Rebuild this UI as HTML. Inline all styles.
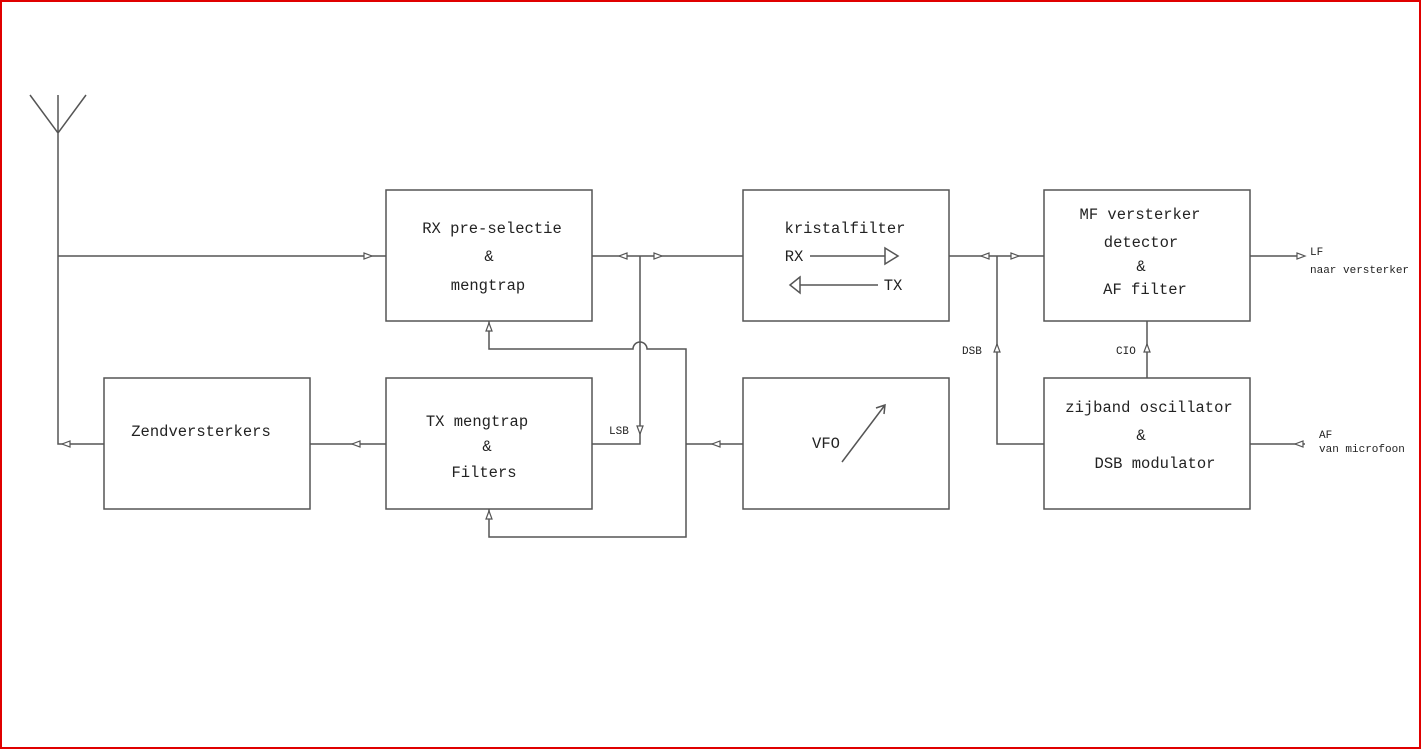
<!DOCTYPE html>
<html><head><meta charset="utf-8"><style>
html,body{margin:0;padding:0;background:#fff}
svg{display:block}
text{font-family:"Liberation Mono","DejaVu Sans Mono",monospace;fill:#222}
</style></head><body>
<svg width="1421" height="749" viewBox="0 0 1421 749" xmlns="http://www.w3.org/2000/svg">
<rect x="1" y="1" width="1419" height="747" fill="none" stroke="#e00000" stroke-width="2"/>
<g fill="none" stroke="#555" stroke-width="1.5">
<rect x="386" y="190" width="206" height="131"/>
<rect x="743" y="190" width="206" height="131"/>
<rect x="1044" y="190" width="206" height="131"/>
<rect x="104" y="378" width="206" height="131"/>
<rect x="386" y="378" width="206" height="131"/>
<rect x="743" y="378" width="206" height="131"/>
<rect x="1044" y="378" width="206" height="131"/>
<path d="M30 95 L58 133 L86 95 M58 95 V444 H104"/>
<path d="M58 256 H386"/>
<path d="M310 444 H386"/>
<path d="M592 256 H743 M640 256 V444 H592"/>
<path d="M489 321 V349 H633 A7 7 0 0 1 647 349 H686 V537 H489 V509"/>
<path d="M686 444 H743"/>
<path d="M949 256 H1044 M997 256 V444 H1044"/>
<path d="M1147 321 V378"/>
<path d="M1250 256 H1300 M1250 444 H1305"/>
<path d="M810 256 H885 M885 248 L898 256 L885 264 Z"/>
<path d="M800 285 H878 M800 277 L790 285 L800 293 Z"/>
<path d="M842 462 L885 405 M876 408 L885 405 L884 414"/>
</g>
<g fill="#fff" stroke="#555" stroke-width="1.2">
<path d="M372 256 L364 253 L364 259 Z"/>
<path d="M62 444 L70 441 L70 447 Z"/>
<path d="M352 444 L360 441 L360 447 Z"/>
<path d="M619 256 L627 253 L627 259 Z"/>
<path d="M662 256 L654 253 L654 259 Z"/>
<path d="M640 434 L637 426 L643 426 Z"/>
<path d="M489 323 L486 331 L492 331 Z"/>
<path d="M489 511 L486 519 L492 519 Z"/>
<path d="M712 444 L720 441 L720 447 Z"/>
<path d="M981 256 L989 253 L989 259 Z"/>
<path d="M1019 256 L1011 253 L1011 259 Z"/>
<path d="M997 344 L994 352 L1000 352 Z"/>
<path d="M1147 344 L1144 352 L1150 352 Z"/>
<path d="M1305 256 L1297 253 L1297 259 Z"/>
<path d="M1295 444 L1303 441 L1303 447 Z"/>
</g>
<g font-size="15.5" text-anchor="middle">
<text x="492" y="233">RX pre-selectie</text>
<text x="489" y="261">&amp;</text>
<text x="488" y="290">mengtrap</text>
<text x="845" y="233">kristalfilter</text>
<text x="1140" y="219">MF versterker</text>
<text x="1141" y="247">detector</text>
<text x="1141" y="271">&amp;</text>
<text x="1145" y="294">AF filter</text>
<text x="1149" y="412">zijband oscillator</text>
<text x="1141" y="440">&amp;</text>
<text x="1155" y="468">DSB modulator</text>
<text x="477" y="426">TX mengtrap</text>
<text x="487" y="451">&amp;</text>
<text x="484" y="477">Filters</text>
<text x="201" y="436">Zendversterkers</text>
<text x="826" y="448">VFO</text>
<text x="794" y="261">RX</text>
<text x="893" y="290">TX</text>
</g>
<g font-size="11">
<text x="609" y="434">LSB</text>
<text x="962" y="354">DSB</text>
<text x="1116" y="354">CIO</text>
<text x="1310" y="255">LF</text>
<text x="1310" y="273">naar versterker</text>
<text x="1319" y="438">AF</text>
<text x="1319" y="452">van microfoon</text>
</g>
</svg>
</body></html>
